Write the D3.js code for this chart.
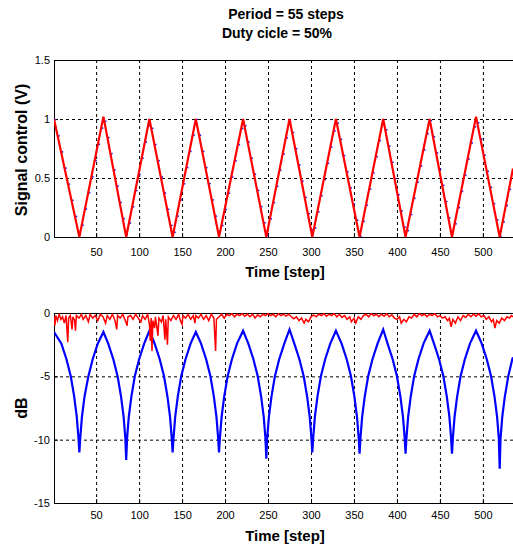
<!DOCTYPE html>
<html>
<head>
<meta charset="utf-8">
<script src="https://cdn.jsdelivr.net/npm/d3@7"></script>
<style>
body { margin: 0; background: #fff; }
svg { display: block; }
text { font-family: "Liberation Sans", Arial, sans-serif; fill: #000; }
</style>
</head>
<body>
<div id="canvas"></div>
<script>
// ----------------------------------------------------------
// DATA -----------------------------------------------------
// ----------------------------------------------------------
var title_lines = ["Period = 55 steps", "Duty cicle = 50%"];
var time_ticks = [50, 100, 150, 200, 250, 300, 350, 400, 450, 500];
var signal_ticks = [0, 0.5, 1, 1.5];
var db_ticks = [-15, -10, -5, 0];

// control signal (V) - corners of the triangle wave
var control_steps = [1, 30.5, 58.5, 85, 112, 139, 166, 193, 221, 248, 275, 301.5, 329, 356.5, 384, 410, 438, 464, 492, 519.5, 535];
var control_volts = [1.0, 0, 1.02, 0, 1.0, 0, 1.0, 0, 1.0, 0, 1.0, 0, 1.0, 0, 1.0, 0, 1.0, 0, 1.02, 0, 0.58];

// blue trace (dB)
var blue_trace = [
[1,-1.5],[9.5,-2.4],[15.5,-3.65],[20.5,-5.0],[24.5,-6.6],[27.5,-8.2],[29.5,-9.9],[30.5,-11.0],[31.5,-9.9],[33.5,-8.2],[36.5,-6.6],[41,-5.0],[46,-3.65],[52,-2.4],[58.5,-1.5],
[64,-2.4],[70,-3.65],[75,-5.0],[79,-6.6],[82,-8.2],[84,-9.9],[85,-11.6],[86,-9.9],[88,-8.2],[91,-6.6],[95,-5.0],[100,-3.65],[106,-2.4],[112,-1.4],
[118,-2.4],[124,-3.65],[129,-5.0],[133,-6.6],[136,-8.2],[138,-9.9],[139,-11.0],[140,-9.9],[142,-8.2],[145,-6.6],[149,-5.0],[154,-3.65],[160,-2.4],[166,-1.5],
[172,-2.4],[178,-3.65],[183,-5.0],[187,-6.6],[190,-8.2],[192,-9.9],[193,-11.0],[194,-9.9],[196,-8.2],[199,-6.6],[203,-5.0],[208,-3.65],[214,-2.4],[221,-1.4],
[227,-2.4],[233,-3.65],[238,-5.0],[242,-6.6],[245,-8.2],[247,-9.9],[248,-11.5],[249,-9.9],[251,-8.2],[254,-6.6],[258,-5.0],[263,-3.65],[269,-2.4],[275,-1.3],
[280.5,-2.4],[286.5,-3.65],[291.5,-5.0],[295.5,-6.6],[298.5,-8.2],[300.5,-9.9],[301.5,-11.0],[302.5,-9.9],[304.5,-8.2],[307.5,-6.6],[311.5,-5.0],[316.5,-3.65],[322.5,-2.4],[329,-1.4],
[335.5,-2.4],[341.5,-3.65],[346.5,-5.0],[350.5,-6.6],[353.5,-8.2],[355.5,-9.9],[356.5,-11.1],[357.5,-9.9],[359.5,-8.2],[362.5,-6.6],[366.5,-5.0],[371.5,-3.65],[377.5,-2.4],[384,-1.3],
[389,-2.4],[395,-3.65],[400,-5.0],[404,-6.6],[407,-8.2],[409,-9.9],[410,-11.1],[411,-9.9],[413,-8.2],[416,-6.6],[420,-5.0],[425,-3.65],[431,-2.4],[438,-1.4],
[443,-2.4],[449,-3.65],[454,-5.0],[458,-6.6],[461,-8.2],[463,-9.9],[464,-11.1],[465,-9.9],[467,-8.2],[470,-6.6],[474,-5.0],[479,-3.65],[485,-2.4],[492,-1.4],
[498.5,-2.4],[504.5,-3.65],[509.5,-5.0],[513.5,-6.6],[516.5,-8.2],[518.5,-9.9],[519.5,-12.3],[520.5,-9.9],[522.5,-8.2],[525.5,-6.6],[529.5,-5.0],[534,-3.7],[535,-3.5]
];

// red trace (dB)
var red_trace = [
[1,-0.3],[2,-1.0],[3,-0.2],[5,-0.6],[7,-0.1],[9,-0.5],[11,-0.3],[13,-0.8],[15,-0.2],[17,-2.3],[18,-0.4],[20,-0.2],[22,-1.3],[23,-0.3],[25,-0.6],[26,-1.4],[27,-0.2],
[30,-0.4],[33,-0.1],[35,-0.5],[38,-0.2],[41,-0.7],[43,-0.1],[46,-0.4],[49,-0.2],[52,-0.6],[55,-0.1],[58,-0.3],[61,-0.8],[63,-0.2],[66,-0.5],[69,-0.1],[72,-0.6],
[74,-1.3],[75,-0.2],[78,-0.4],[81,-0.1],[84,-0.6],[86,-1.0],[87,-0.3],[90,-0.2],[93,-0.5],[96,-0.1],[99,-0.4],[102,-0.7],[104,-0.2],[107,-0.5],[110,-0.1],[112,-0.9],
[113,-2.2],[114,-0.4],[115,-3.0],[116,-0.6],[118,-1.2],[119,-0.3],[122,-1.8],[123,-0.4],[126,-0.7],[128,-0.2],[130,-2.1],[131,-0.5],[133,-2.5],[134,-0.3],[137,-0.6],
[140,-0.2],[143,-0.5],[146,-0.1],[148,-0.6],[150,-0.9],[151,-0.2],[154,-0.4],[157,-0.1],[160,-0.5],[163,-0.2],[165,-0.8],[166,-0.2],[169,-0.4],[172,-0.1],[175,-0.5],
[178,-0.2],[181,-0.6],[184,-0.1],[187,-0.4],[189,-3.0],[190,-0.5],[193,-0.3],[196,-0.1],[199,-0.4],[202,-0.1],[205,-0.2],[208,-0.05],[211,-0.3],[214,-0.1],[217,-0.2],
[220,-0.05],[223,-0.25],[226,-0.1],[229,-0.3],[232,-0.1],[235,-0.4],[238,-0.15],[241,-0.3],[244,-0.1],[247,-0.2],[250,-0.05],[253,-0.2],[256,-0.1],[259,-0.3],[262,-0.05],
[265,-0.2],[268,-0.1],[271,-0.25],[274,-0.1],[277,-0.3],[280,-0.45],[283,-0.3],[286,-0.6],[289,-0.4],[292,-0.8],[294,-0.5],[297,-0.7],[300,-0.3],[303,-0.15],[306,-0.3],
[309,-0.1],[312,-0.2],[315,-0.05],[318,-0.25],[321,-0.1],[324,-0.2],[327,-0.05],[330,-0.3],[333,-0.1],[336,-0.35],[339,-0.2],[342,-0.5],[345,-0.3],[347,-0.7],[350,-0.4],
[352,-0.8],[355,-0.3],[358,-0.5],[361,-0.2],[364,-0.1],[367,-0.3],[370,-0.05],[373,-0.2],[376,-0.1],[379,-0.3],[382,-0.1],[385,-0.25],[388,-0.05],[391,-0.3],[394,-0.15],
[397,-0.4],[400,-0.5],[403,-0.3],[405,-0.8],[408,-0.5],[411,-0.7],[414,-0.3],[417,-0.4],[420,-0.1],[423,-0.3],[426,-0.05],[429,-0.2],[432,-0.1],[435,-0.3],[438,-0.1],
[441,-0.2],[444,-0.05],[447,-0.3],[450,-0.2],[453,-0.4],[456,-0.3],[459,-0.6],[461,-0.4],[463,-1.1],[465,-0.5],[468,-0.8],[471,-0.3],[474,-0.6],[477,-0.2],[480,-0.35],
[483,-0.1],[486,-0.3],[489,-0.1],[492,-0.25],[495,-0.05],[498,-0.3],[501,-0.2],[504,-0.5],[507,-0.3],[510,-0.7],[512,-0.5],[514,-1.2],[516,-0.6],[519,-0.8],[522,-0.4],
[525,-0.6],[528,-0.3],[531,-0.4],[533,-0.2],[535,-0.3]
];


// ----------------------------------------------------------
// STRUCTURE ------------------------------------------------
// ----------------------------------------------------------
var container_width = 513;
var container_height = 546;
var plot_left = 54;
var plot_right = 513;
var top_y0 = 60, top_y1 = 237;
var bottom_y0 = 313, bottom_y1 = 503;

var svg = d3.select("#canvas").append("svg")
.attr("width", container_width)
.attr("height", container_height)
.style("background-color", "#fff");

// clip for data lines
var defs = svg.append("defs");
defs.append("clipPath").attr("id", "clip_top")
.append("rect").attr("x", plot_left).attr("y", top_y0).attr("width", plot_right - plot_left).attr("height", top_y1 - top_y0);
defs.append("clipPath").attr("id", "clip_bottom")
.append("rect").attr("x", plot_left).attr("y", bottom_y0).attr("width", plot_right - plot_left).attr("height", bottom_y1 - bottom_y0);

// scales
var xScale = d3.scaleLinear().domain([1, 535]).range([plot_left, plot_right]);
var yScale_top = d3.scaleLinear().domain([0, 1.5]).range([top_y1, top_y0]);
var yScale_bottom = d3.scaleLinear().domain([-15, 0]).range([bottom_y1, bottom_y0]);

var plain = function(d) { return String(d); };


// ----------------------------------------------------------
// PANELS ---------------------------------------------------
// ----------------------------------------------------------
function drawPanel(yScale, y0, y1, yTicks, gridY, xPad) {
var panel = svg.append("g").attr("class", "panel");

// vertical grid
panel.append("g")
.attr("transform", "translate(0," + y1 + ")")
.call(d3.axisBottom(xScale).tickValues(time_ticks).tickSize(-(y1 - y0)).tickFormat(""))
.call(function(g) {
g.select(".domain").remove();
g.selectAll(".tick line").attr("stroke", "#000").attr("stroke-dasharray", "3,3");
});

// horizontal grid
panel.append("g")
.attr("transform", "translate(" + plot_left + ",0)")
.call(d3.axisLeft(yScale).tickValues(gridY).tickSize(-(plot_right - plot_left)).tickFormat(""))
.call(function(g) {
g.select(".domain").remove();
g.selectAll(".tick line").attr("stroke", "#000").attr("stroke-dasharray", "3,3");
});

// x axis ticks + labels
panel.append("g")
.attr("transform", "translate(0," + y1 + ")")
.call(d3.axisBottom(xScale).tickValues(time_ticks).tickSizeInner(-4).tickSizeOuter(0).tickPadding(xPad).tickFormat(plain))
.call(function(g) {
g.select(".domain").remove();
g.selectAll(".tick line").attr("stroke", "#000");
g.selectAll(".tick text").style("font-size", "11px").attr("fill", "#000");
});

// y axis ticks + labels
panel.append("g")
.attr("transform", "translate(" + plot_left + ",0)")
.call(d3.axisLeft(yScale).tickValues(yTicks).tickSizeInner(-4).tickSizeOuter(0).tickPadding(4).tickFormat(plain))
.call(function(g) {
g.select(".domain").remove();
g.selectAll(".tick line").attr("stroke", "#000");
g.selectAll(".tick text").style("font-size", "11px").attr("fill", "#000");
});

// frame
panel.append("path")
.attr("d", "M" + plot_right + "," + (y0 + 0.5) + "H" + (plot_left + 0.5) + "V" + (y1 + 0.5) + "H" + plot_right)
.attr("fill", "none")
.attr("stroke", "#000")
.attr("stroke-width", 1);

return panel;
}

var top_panel = drawPanel(yScale_top, top_y0, top_y1, signal_ticks, [0.5, 1], 11);
var bottom_panel = drawPanel(yScale_bottom, bottom_y0, bottom_y1, db_ticks, [-10, -5], 8);


// ----------------------------------------------------------
// GFX ------------------------------------------------------
// ----------------------------------------------------------
var control_data = d3.zip(control_steps, control_volts);

var line_top = d3.line()
.x(function(d) { return xScale(d[0]); })
.y(function(d) { return yScale_top(d[1]); });

var line_bottom = d3.line()
.x(function(d) { return xScale(d[0]); })
.y(function(d) { return yScale_bottom(d[1]); });

var top_lines = svg.append("g").attr("clip-path", "url(#clip_top)");
// blue samples peeking out under the red trace
top_lines.append("path")
.attr("d", line_top(control_data))
.attr("transform", "translate(1.2,0)")
.attr("fill", "none")
.attr("stroke", "#1a1aff")
.attr("stroke-width", 2)
.attr("stroke-dasharray", "1.5,15");
top_lines.append("path")
.attr("d", line_top(control_data))
.attr("fill", "none")
.attr("stroke", "#ff0000")
.attr("stroke-width", 2.2);

var bottom_lines = svg.append("g").attr("clip-path", "url(#clip_bottom)");
bottom_lines.append("path")
.attr("d", line_bottom(blue_trace))
.attr("fill", "none")
.attr("stroke", "#0000ff")
.attr("stroke-width", 2.2);
bottom_lines.append("path")
.attr("d", line_bottom(red_trace))
.attr("fill", "none")
.attr("stroke", "#ff0000")
.attr("stroke-width", 1.5);


// ----------------------------------------------------------
// TEXT -----------------------------------------------------
// ----------------------------------------------------------
svg.append("text")
.attr("x", 286).attr("y", 19)
.attr("text-anchor", "middle")
.style("font-size", "14px").style("font-weight", "bold")
.text(title_lines[0]);
svg.append("text")
.attr("x", 277).attr("y", 38)
.attr("text-anchor", "middle")
.style("font-size", "14px").style("font-weight", "bold")
.text(title_lines[1]);

svg.append("text")
.attr("x", 285).attr("y", 277)
.attr("text-anchor", "middle")
.style("font-size", "15px").style("font-weight", "bold")
.text("Time [step]");
svg.append("text")
.attr("x", 285).attr("y", 541)
.attr("text-anchor", "middle")
.style("font-size", "15px").style("font-weight", "bold")
.text("Time [step]");

svg.append("text")
.attr("transform", "translate(27,150)rotate(-90)")
.attr("text-anchor", "middle")
.style("font-size", "16px").style("font-weight", "bold")
.text("Signal control (V)");
svg.append("text")
.attr("transform", "translate(27,408)rotate(-90)")
.attr("text-anchor", "middle")
.style("font-size", "16px").style("font-weight", "bold")
.text("dB");
</script>
</body>
</html>
